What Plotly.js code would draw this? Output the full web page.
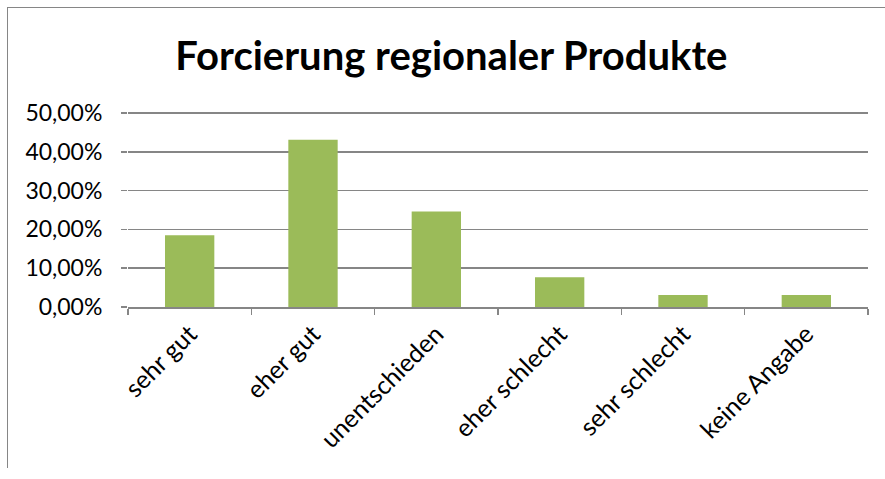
<!DOCTYPE html>
<html>
<head>
<meta charset="utf-8">
<script src="https://cdn.plot.ly/plotly-3.0.1.min.js"></script>
<style>
  html, body { margin: 0; padding: 0; background: #fff; overflow: hidden; }
  #frame { position: absolute; left: 7px; top: 7px; width: 890px; height: 460px;
           border-left: 1px solid #868686; border-top: 1px solid #868686; }
  #chart { position: absolute; left: 0; top: 0; width: 885px; height: 479px; }
</style>
</head>
<body>
<div id="frame"></div>
<div id="chart"></div>
<script>
const categories = ["sehr gut", "eher gut", "unentschieden", "eher schlecht", "sehr schlecht", "keine Angabe"];
const values = [0.1846, 0.4308, 0.2462, 0.0769, 0.0308, 0.0308];
const yTicks = [0, 0.1, 0.2, 0.3, 0.4, 0.5];
const chartTitle = "Forcierung regionaler Produkte";

const FONT = "Lato, 'Open Sans', sans-serif";

Plotly.newPlot("chart", [{
  type: "bar",
  x: categories,
  y: values,
  marker: { color: "#9BBB59" },
  hoverinfo: "x+y"
}], {
  width: 885,
  height: 479,
  paper_bgcolor: "rgba(0,0,0,0)",
  plot_bgcolor: "rgba(0,0,0,0)",
  margin: { l: 128, r: 17, t: 111, b: 172 },
  separators: ",.",
  bargap: 0.6,
  showlegend: false,
  font: { family: FONT, color: "#000", size: 23 },
  title: {
    text: "<b>" + chartTitle + "</b>",
    font: { family: FONT, size: 40, color: "#000" },
    x: 0.51, xref: "container", xanchor: "center",
    y: 55, yref: "container", yanchor: "middle"
  },
  xaxis: {
    type: "category",
    tickangle: -45,
    ticks: "outside",
    tickson: "boundaries",
    ticklen: 6,
    tickcolor: "#868686",
    tickwidth: 1.5,
    showline: true,
    linecolor: "#868686",
    linewidth: 1.5,
    showgrid: false,
    ticklabelstandoff: 1,
    tickfont: { family: FONT, size: 25, color: "#000" },
    automargin: false
  },
  yaxis: {
    range: [0, 0.505],
    tickvals: yTicks,
    tickformat: ".2%",
    ticks: "outside",
    ticklen: 6,
    tickcolor: "#868686",
    tickwidth: 1.5,
    showline: false,
    showgrid: true,
    gridcolor: "#868686",
    gridwidth: 1.5,
    zeroline: false,
    ticklabelstandoff: 14,
    tickfont: { family: FONT, size: 23, color: "#000" },
    automargin: false
  }
}, { displayModeBar: false, staticPlot: true });
</script>
</body>
</html>
